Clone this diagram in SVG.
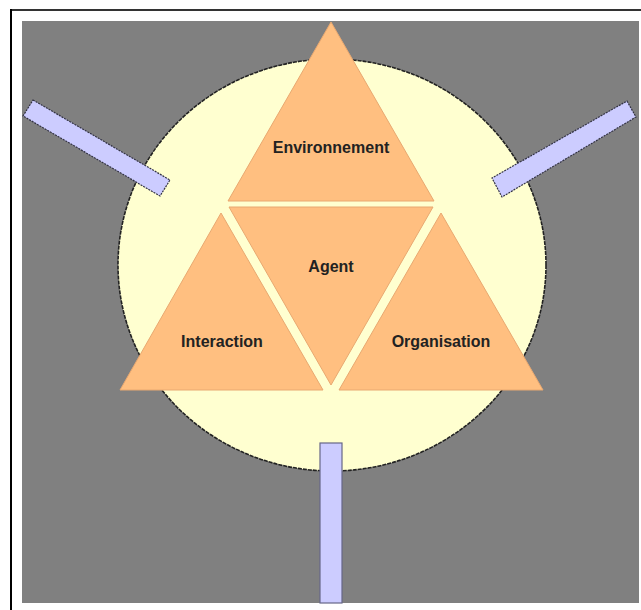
<svg xmlns="http://www.w3.org/2000/svg" width="641" height="610" viewBox="0 0 641 610">
<style>
.tri{fill:#FFBF80;stroke:#E8A870;stroke-width:1}
.bar{fill:#CCCCFF;stroke:#333344;stroke-width:1.2;stroke-dasharray:2 1}
.lbl{font-family:"Liberation Sans",Arial,sans-serif;font-weight:bold;font-size:16px;fill:#222;text-anchor:middle}
</style>
<rect x="0" y="0" width="641" height="610" fill="#FFFFFF"/>
<line x1="10" y1="10" x2="641" y2="10" stroke="#333" stroke-width="2"/>
<line x1="11" y1="9" x2="11" y2="610" stroke="#000" stroke-width="2"/>
<rect x="22" y="21" width="617" height="582" fill="#808080"/>
<g id="circle">
<ellipse cx="332" cy="265" rx="214" ry="206" fill="#FFFFD0" stroke="#222" stroke-width="1.6" stroke-dasharray="4 1"/>
</g>
<g id="connectors">
<polygon class="bar" points="33,100 170,180 160,196 23,116"/>
<polygon class="bar" points="627,101 636,117 502,197 492,178"/>
<rect class="bar" x="320" y="443" width="22" height="160" style="stroke:#666688;stroke-dasharray:none"/>
</g>
<g id="environnement">
<polygon class="tri" points="331,22 434,201 228,201"/>
<text class="lbl" x="331" y="153">Environnement</text>
</g>
<g id="agent">
<polygon class="tri" points="229,207 433,207 331,385"/>
<text class="lbl" x="331" y="272">Agent</text>
</g>
<g id="interaction">
<polygon class="tri" points="221,213 323,390 120,390"/>
<text class="lbl" x="222" y="347">Interaction</text>
</g>
<g id="organisation">
<polygon class="tri" points="441,213 543,390 339,390"/>
<text class="lbl" x="441" y="347">Organisation</text>
</g>
</svg>
